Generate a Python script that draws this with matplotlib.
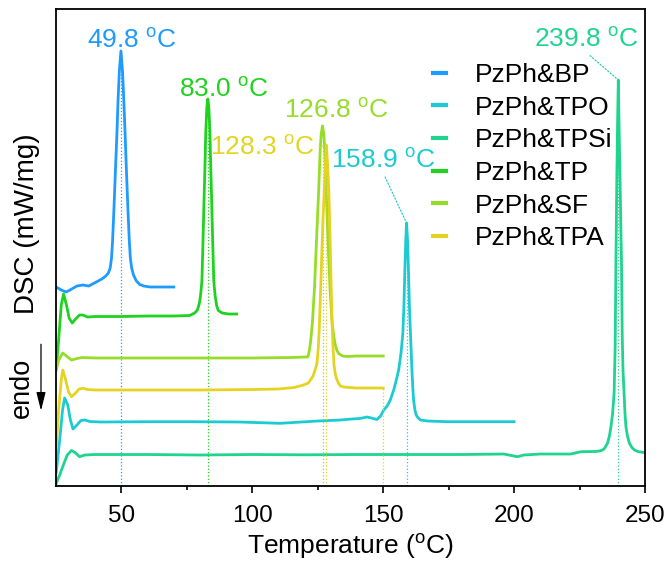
import matplotlib
matplotlib.use('Agg')
import matplotlib.pyplot as plt

plt.rcParams['font.family'] = ['Liberation Sans', 'DejaVu Sans']
plt.rcParams['mathtext.fontset'] = 'custom'
plt.rcParams['mathtext.rm'] = 'Liberation Sans'

# curves: temperature (C) and heat flow (offset, a.u.)
bp_T = [25.1, 27.0, 28.9, 31.0, 33.0, 35.3, 37.5, 40.4, 42.5, 44.0, 45.0, 45.7, 46.2, 46.6, 47.1,
        47.75, 48.3, 48.7, 49.2, 49.8, 50.4, 50.9, 51.35, 51.85, 52.5, 53.0, 53.4, 53.9, 54.6,
        55.7, 57.0, 58.5, 61.0, 65.0, 70.0]
bp_y = [19.9, 19.6, 19.4, 19.7, 20.0, 20.1, 20.0, 20.4, 20.7, 21.0, 21.3, 21.8, 22.8, 24.5, 27.5,
        31.9, 35.5, 38.6, 41.5, 43.5, 41.5, 38.6, 35.5, 31.9, 27.5, 24.5, 22.8, 21.8, 21.1,
        20.5, 20.15, 20.0, 19.9, 19.9, 19.9]

tpo_T = [25.1, 26.4, 27.5, 28.3, 29.5, 30.5, 31.5, 33.0, 34.5, 36.0, 38.0, 42.0, 60.0, 76.0, 95.0,
         110.6, 125.0, 133.6, 138.0, 141.0, 143.8, 145.5, 147.6, 149.0, 150.2, 151.5, 152.7, 154.0,
         155.0, 155.9, 156.8, 157.5, 157.9, 158.2, 158.6, 158.9, 159.3, 159.7, 160.0, 160.4, 160.9,
         161.3, 161.6, 162.1, 162.6, 163.2, 164.2, 167.0, 174.4, 185.0, 200.0]
tpo_y = [1.4, 4.6, 7.6, 8.8, 8.1, 6.6, 5.7, 6.1, 6.55, 6.6, 6.45, 6.4, 6.43, 6.43, 6.4,
         6.27, 6.5, 6.6, 6.7, 6.75, 6.9, 6.8, 6.65, 7.0, 7.6, 8.0, 8.6, 9.6,
         10.6, 11.6, 13.3, 15.3, 18.0, 21.0, 24.5, 26.3, 24.5, 21.0, 18.0, 15.3, 12.0,
         9.8, 8.6, 7.6, 7.1, 6.85, 6.6, 6.5, 6.43, 6.43, 6.43]

tpsi_T = [25.0, 25.6, 26.4, 27.8, 29.3, 30.9, 32.3, 34.0, 36.0, 40.0, 60.0, 80.0, 100.0, 120.0,
          140.0, 160.0, 180.0, 196.0, 199.0, 201.2, 203.8, 210.0, 221.6, 225.5, 231.0, 232.5,
          233.8, 234.5, 235.7, 236.4, 237.0, 237.6, 238.2, 238.6, 238.9, 239.2, 239.5, 239.8,
          240.1, 240.5, 241.0, 241.3, 241.6, 242.0, 242.3, 242.7, 243.3, 244.0, 245.0, 246.0,
          247.2, 250.0]
tpsi_y = [0.2, 0.6, 1.1, 2.1, 3.1, 3.55, 3.35, 2.93, 3.1, 3.15, 3.15, 3.1, 3.15, 3.12,
          3.15, 3.15, 3.15, 3.2, 3.05, 2.93, 3.1, 3.2, 3.2, 3.43, 3.45, 3.5,
          3.6, 3.75, 4.3, 5.0, 5.93, 7.2, 9.3, 14.0, 22.6, 30.0, 36.0, 40.6,
          36.0, 30.0, 22.6, 15.0, 11.5, 9.3, 7.5, 5.93, 5.0, 4.3, 3.85, 3.6,
          3.45, 3.33]

tp_T = [25.1, 26.0, 27.0, 27.9, 29.0, 30.0, 31.2, 32.5, 34.0, 35.3, 37.0, 40.0, 50.0, 60.0, 70.0,
        76.0, 78.0, 79.0, 79.7, 80.15, 80.5, 80.75, 81.15, 81.55, 81.9, 82.2, 82.6, 83.0, 83.4,
        83.8, 84.1, 84.45, 84.85, 85.25, 85.5, 85.85, 86.4, 87.0, 88.5, 91.0, 94.0]
tp_y = [11.8, 14.6, 18.1, 19.2, 18.1, 16.8, 16.3, 16.7, 17.1, 17.1, 16.9, 16.95, 16.95, 17.0, 17.0,
        17.05, 17.3, 17.6, 18.2, 18.9, 19.8, 20.6, 24.5, 28.6, 32.0, 35.3, 37.8, 38.7, 37.8,
        35.3, 32.0, 28.6, 24.5, 20.6, 19.8, 18.9, 18.0, 17.55, 17.3, 17.2, 17.2]

sf_T = [25.1, 26.0, 27.6, 29.0, 30.9, 33.0, 35.0, 40.0, 60.0, 80.0, 100.0, 115.0, 120.0, 121.1,
        121.5, 121.8, 122.2, 122.9, 123.7, 124.5, 125.35, 125.9, 126.3, 126.8, 127.3, 127.7, 128.2,
        128.9, 129.7, 130.5, 131.2, 131.7, 132.4, 133.2, 134.5, 135.7, 140.0, 145.0, 150.0]
sf_y = [11.6, 12.6, 13.3, 13.0, 12.6, 12.75, 12.85, 12.8, 12.8, 12.8, 12.8, 12.85, 12.9, 12.9,
        13.2, 13.6, 14.3, 16.2, 19.6, 24.5, 29.6, 33.5, 35.2, 36.0, 35.2, 33.5, 29.6,
        24.5, 19.6, 16.3, 14.8, 14.1, 13.5, 13.2, 13.0, 12.95, 13.0, 13.0, 13.0]

tpa_T = [25.1, 26.0, 27.0, 27.6, 28.5, 29.8, 30.9, 32.5, 33.8, 35.3, 37.0, 40.0, 60.0, 80.0, 100.0,
         110.0, 116.0, 119.5, 121.4, 123.2, 124.2, 124.7, 125.2, 125.6, 126.0, 126.5, 127.0, 127.5,
         127.9, 128.3, 128.7, 129.2, 129.5, 129.8, 130.1, 130.4, 130.8, 131.2, 131.7, 132.2, 132.9,
         133.6, 135.0, 137.0, 140.0, 145.0, 150.0]
tpa_y = [4.1, 7.6, 10.6, 11.6, 10.8, 9.4, 8.93, 9.3, 9.7, 9.77, 9.65, 9.6, 9.6, 9.6, 9.65,
         9.7, 9.85, 10.1, 10.3, 11.0, 11.8, 12.3, 13.8, 16.0, 19.0, 23.0, 26.8, 29.6,
         32.3, 34.1, 32.3, 29.6, 26.8, 23.6, 20.0, 16.6, 14.0, 12.1, 11.2, 10.7, 10.3,
         10.0, 9.9, 9.85, 9.8, 9.8, 9.8]

names = ['PzPh&BP', 'PzPh&TPO', 'PzPh&TPSi', 'PzPh&TP', 'PzPh&SF', 'PzPh&TPA']
colors = ['#1f9bff', '#1ccbd2', '#1ed48e', '#1fd21f', '#96dc28', '#e4d421']
peaks = [49.8, 158.9, 239.8, 83.0, 126.8, 128.3]
peak_y = [43.5, 26.3, 40.6, 38.7, 36.0, 34.1]
# label anchors (temperature, height)
label_pos = [(54.1, 43.8), (150.0, 31.8), (227.4, 43.9), (89.2, 38.9), (132.0, 36.8), (103.9, 33.1)]
leader = [False, True, True, False, True, True]

curves = [(bp_T, bp_y), (tpo_T, tpo_y), (tpsi_T, tpsi_y), (tp_T, tp_y), (sf_T, sf_y), (tpa_T, tpa_y)]

fig = plt.figure(figsize=(6.7, 5.62), dpi=100)
ax = fig.add_axes([0.0836, 0.1352, 0.8791, 0.8488])

for (T, y), name, c, pk, py, lp, ld in zip(curves, names, colors, peaks, peak_y, label_pos, leader):
    ax.plot(T, y, color=c, lw=2.0, label=name, solid_joinstyle='round')
    ax.vlines(pk, 0, py, colors=c, linestyles=':', lw=0.9)
    txt = '%.1f $^{\\rm o}$C' % pk
    if ld:
        ax.annotate(txt, xy=(pk, py), xytext=lp, ha='center', va='baseline', fontsize=19, color=c,
                    arrowprops=dict(arrowstyle='-', linestyle=':', color=c, lw=0.9,
                                    shrinkA=1, shrinkB=0, relpos=(0.5, 0)))
    else:
        ax.text(lp[0], lp[1], txt, ha='center', va='baseline', fontsize=19, color=c)

# dotted drop line where the TPA run ends
ax.vlines(tpa_T[-1], 0, tpa_y[-1], colors=colors[5], linestyles=':', lw=0.9)

ax.set_xlim(25, 250)
ax.set_ylim(0, 47.7)
ax.set_xticks([50, 100, 150, 200, 250])
ax.set_xticks([75, 125, 175, 225], minor=True)
ax.set_yticks([])
ax.tick_params(axis='x', which='major', direction='out', length=5, width=1.2, labelsize=17.5, pad=9)
ax.tick_params(axis='x', which='minor', direction='out', length=3, width=1.2)
for s in ax.spines.values():
    s.set_linewidth(1.3)

ax.set_xlabel('Temperature ($^{\\rm o}$C)', fontsize=19, labelpad=3)
ax.text(-0.049, 0.549, 'DSC (mW/mg)', rotation=90, fontsize=20, ha='center', va='center',
        transform=ax.transAxes)
ax.text(-0.058, 0.205, 'endo', rotation=90, fontsize=19.5, ha='center', va='center',
        transform=ax.transAxes)
ax.annotate('', xy=(-0.0255, 0.152), xytext=(-0.0255, 0.303), xycoords='axes fraction',
            arrowprops=dict(arrowstyle='-|>,head_length=0.8,head_width=0.2', color='black', lw=0.9,
                            mutation_scale=14),
            annotation_clip=False)

leg = ax.legend(loc='upper left', bbox_to_anchor=(0.64, 0.887), frameon=False, fontsize=19,
                handlelength=0.5, handletextpad=1.1, labelspacing=0.33, borderpad=0,
                borderaxespad=0)
for h in leg.get_lines():
    h.set_linewidth(3)

fig.savefig('out.png', dpi=100)
